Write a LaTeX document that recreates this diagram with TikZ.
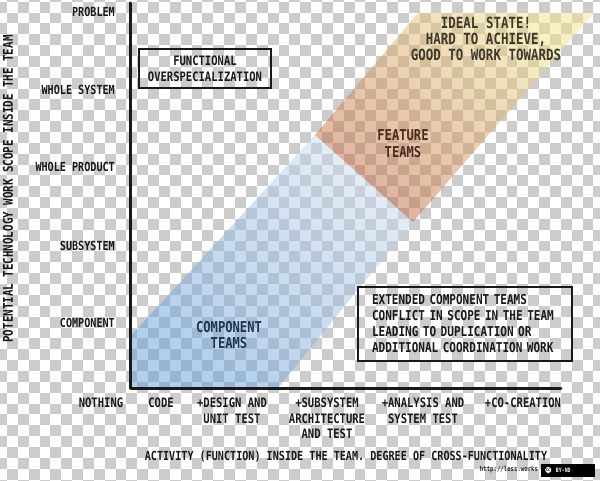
\documentclass[tikz,border=0pt]{standalone}
\usepackage{fontspec}
\setmainfont{DejaVu Sans Mono}[FakeStretch=0.81]
\usepackage{tikz}
\usetikzlibrary{positioning}

\definecolor{checkgray}{RGB}{204,204,204}
\definecolor{teamblue}{RGB}{100,158,215}
\definecolor{paleblue}{RGB}{205,218,236}
\definecolor{featred}{RGB}{190,100,65}
\definecolor{idealyellow}{RGB}{240,228,140}
\definecolor{navytext}{RGB}{30,53,80}
\definecolor{browntext}{RGB}{74,42,32}
\definecolor{olivetext}{RGB}{62,56,42}

\begin{document}
\begin{tikzpicture}[x=1pt, y=-1pt,
    lbl/.style={font=\fontsize{12.5}{16}\selectfont\bfseries, text=black!90, inner sep=0pt, align=center},
    ticklbl/.style={lbl, anchor=east},
    xlbl/.style={lbl, anchor=north, font=\fontsize{13}{15.5}\selectfont\bfseries},
    teamlbl/.style={lbl, font=\fontsize{15}{16.5}\selectfont\bfseries},
    notebox/.style={draw=black!90, line width=1.8pt, inner sep=0pt},
    axisline/.style={draw=black!90, line width=3pt, line cap=round, line join=round}]

    \useasboundingbox (0,0) rectangle (600,481);

    % Draw the background squares
    \begin{scope}
        \clip (0,0) rectangle (600,481);
        \foreach \c in {-1,...,54}
            \foreach \r in {-1,...,44}
                {\ifodd\numexpr\c+\r+2\relax
                    \fill[checkgray] (7+\c*10.86,1.7+\r*10.86) rectangle ++(10.86,10.86);
                \fi}
    \end{scope}

    % Draw the bands
    \shade[top color=paleblue, bottom color=teamblue, shading angle=-40, fill opacity=0.5]
        (130,337) -- (315,135) -- (413,222) -- (278,388) -- (130,388) -- cycle;
    \shade[top color=idealyellow, bottom color=featred, shading angle=-40, fill opacity=0.5]
        (315,135) -- (418,13) -- (594,13) -- (413,222) -- cycle;

    % Draw the axes
    \coordinate (ytop) at (130,3);
    \coordinate (origin) at (130,388);
    \coordinate (xend) at (561,388);
    \draw[axisline] (ytop) -- (origin) -- (xend);

    % Labels
    \node[ticklbl] (problem) at (115,12) {PROBLEM};
    \node[ticklbl] (wholesystem) at (115,90) {WHOLE SYSTEM};
    \node[ticklbl] (wholeproduct) at (115,167) {WHOLE PRODUCT};
    \node[ticklbl] (subsystem) at (115,246) {SUBSYSTEM};
    \node[ticklbl] (component) at (115,323) {COMPONENT};

    \node[xlbl] (nothing) at (101,398) {NOTHING};
    \node[xlbl] (code) at (161,398) {CODE};
    \node[xlbl] (design) at (232,398) {+DESIGN AND\\UNIT TEST};
    \node[xlbl] (architecture) at (327,398) {+SUBSYSTEM\\ARCHITECTURE\\AND TEST};
    \node[xlbl] (analysis) at (423,398) {+ANALYSIS AND\\SYSTEM TEST};
    \node[xlbl] (cocreation) at (523,398) {+CO-CREATION};

    \node[lbl] (xtitle) at (346,457) {ACTIVITY (FUNCTION) INSIDE THE TEAM. DEGREE OF CROSS-FUNCTIONALITY};
    \node[lbl, rotate=90, font=\fontsize{13.4}{16}\selectfont\bfseries] (ytitle) at (8,189)
        {POTENTIAL TECHNOLOGY WORK SCOPE INSIDE THE TEAM};

    \node[notebox, lbl, font=\fontsize{13}{16}\selectfont\bfseries, minimum width=132, minimum height=39] (overspec)
        at (205,68.5) {FUNCTIONAL\\OVERSPECIALIZATION};
    \node[notebox, lbl, font=\fontsize{13.6}{16}\selectfont\bfseries, align=left, text width=186, inner xsep=14,
        minimum height=74] (extended) at (465,324)
        {EXTENDED COMPONENT TEAMS\\CONFLICT IN SCOPE IN THE TEAM\\LEADING TO DUPLICATION OR\\ADDITIONAL COORDINATION WORK};

    \node[teamlbl, text=navytext] (compteams) at (229,335) {COMPONENT\\TEAMS};
    \node[teamlbl, text=browntext] (featteams) at (403,143.5) {FEATURE\\TEAMS};
    \node[teamlbl, text=olivetext, font=\fontsize{15.4}{16}\selectfont\bfseries] (ideal) at (486,39)
        {IDEAL STATE!\\HARD TO ACHIEVE,\\GOOD TO WORK TOWARDS};

    % Licence mark
    \node[inner sep=0pt, font=\fontsize{7}{8}\selectfont\bfseries, text=black!85] (url) at (509,470) {http://less.works};
    \node[right=3pt of url, draw=black, fill=black, minimum width=53pt, minimum height=12pt, inner sep=0pt] (badge) {};
    \node[circle, draw=black, fill=white, inner sep=0.6pt, font=\fontsize{4.5}{5}\selectfont\bfseries] (ccicon)
        at ([xshift=7pt]badge.west) {cc};
    \node[right=4pt of ccicon, inner sep=0pt, text=white, font=\fontsize{6}{7}\selectfont\bfseries] (bynd) {BY-ND};
\end{tikzpicture}
\end{document}
